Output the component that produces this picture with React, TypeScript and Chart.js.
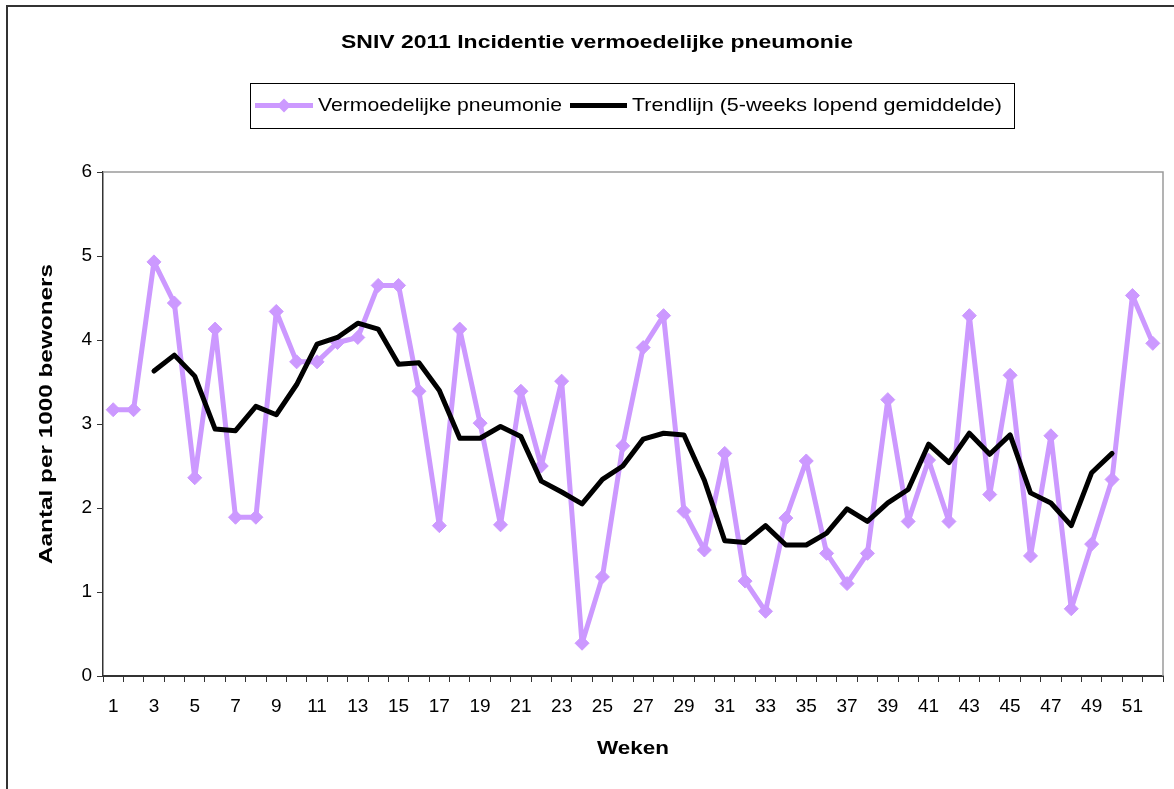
import React, { useEffect, useRef } from "react";
import { Chart, registerables } from "chart.js";

Chart.register(...registerables);

const FONT = "'Liberation Sans', Arial, sans-serif";

const TITLE = "SNIV 2011 Incidentie vermoedelijke pneumonie";
const X_TITLE = "Weken";
const Y_TITLE = "Aantal per 1000 bewoners";
const SERIES_NAMES = ["Vermoedelijke pneumonie", "Trendlijn (5-weeks lopend gemiddelde)"];

const weeks = [
  "1", "2", "3", "4", "5", "6", "7", "8", "9", "10",
  "11", "12", "13", "14", "15", "16", "17", "18", "19", "20",
  "21", "22", "23", "24", "25", "26", "27", "28", "29", "30",
  "31", "32", "33", "34", "35", "36", "37", "38", "39", "40",
  "41", "42", "43", "44", "45", "46", "47", "48", "49", "50",
  "51", "52",
];

const pneumonie = [
  3.17, 3.17, 4.93, 4.44, 2.36, 4.13, 1.89, 1.89, 4.34, 3.74,
  3.74, 3.97, 4.03, 4.65, 4.65, 3.39, 1.79, 4.13, 3.01, 1.80,
  3.39, 2.50, 3.51, 0.39, 1.18, 2.74, 3.91, 4.29, 1.96, 1.50,
  2.65, 1.13, 0.77, 1.88, 2.56, 1.46, 1.10, 1.46, 3.29, 1.84,
  2.57, 1.84, 4.29, 2.16, 3.58, 1.43, 2.86, 0.80, 1.57, 2.34,
  4.53, 3.96,
];

const trend = [
  null, null, 3.63, 3.82, 3.57, 2.94, 2.92, 3.21, 3.11, 3.47,
  3.95, 4.03, 4.20, 4.13, 3.71, 3.73, 3.40, 2.83, 2.83, 2.97,
  2.85, 2.32, 2.19, 2.05, 2.34, 2.50, 2.82, 2.89, 2.87, 2.33,
  1.61, 1.59, 1.79, 1.56, 1.56, 1.70, 1.99, 1.84, 2.06, 2.22,
  2.76, 2.54, 2.89, 2.64, 2.87, 2.18, 2.06, 1.79, 2.42, 2.65,
  null, null,
];

const yTicks = [0, 1, 2, 3, 4, 5, 6];

const PURPLE = "#CC99FF";
const BLACK = "#000000";

// draw text horizontally stretched (as in the original Excel export) to a target width
function drawStretched(
  ctx: CanvasRenderingContext2D,
  text: string,
  x: number,
  y: number,
  targetWidth: number,
  align: "left" | "center",
  rotation = 0
) {
  const w = ctx.measureText(text).width;
  const sx = targetWidth / w;
  ctx.save();
  ctx.translate(x, y);
  if (rotation) ctx.rotate(rotation);
  ctx.scale(sx, 1);
  ctx.textAlign = align;
  ctx.textBaseline = "middle";
  ctx.fillText(text, 0, 0);
  ctx.restore();
}

const decorPlugin = {
  id: "decor",
  beforeDatasetsDraw(chart: any) {
    const { ctx, chartArea: a } = chart;
    ctx.save();
    ctx.strokeStyle = "#9a9a9a";
    ctx.lineWidth = 1.5;
    ctx.beginPath();
    ctx.moveTo(a.left, a.top);
    ctx.lineTo(a.right, a.top);
    ctx.lineTo(a.right, a.bottom);
    ctx.stroke();
    ctx.restore();
  },
  afterDraw(chart: any) {
    const { ctx, chartArea: a } = chart;
    ctx.save();
    ctx.fillStyle = "#000";

    // Title
    ctx.font = `bold 18px ${FONT}`;
    drawStretched(ctx, TITLE, 597, 43, 512, "center");

    // Axis titles
    ctx.font = `bold 18px ${FONT}`;
    drawStretched(ctx, X_TITLE, (a.left + a.right) / 2, 749, 72, "center");
    drawStretched(ctx, Y_TITLE, 47, 414, 300, "center", -Math.PI / 2);

    // Legend
    ctx.font = `19px ${FONT}`;
    const left = 250;
    const right = 1014;
    const top = 83;
    const h = 45;
    const cy = top + h / 2;
    ctx.strokeStyle = "#000";
    ctx.lineWidth = 1;
    ctx.strokeRect(left + 0.5, top + 0.5, right - left, h);

    const ds = chart.data.datasets;
    let x = left + 5;
    const lineLen = 58;
    // entry 1
    ctx.strokeStyle = ds[0].borderColor;
    ctx.lineWidth = 5;
    ctx.beginPath();
    ctx.moveTo(x, cy);
    ctx.lineTo(x + lineLen, cy);
    ctx.stroke();
    const mx = x + lineLen / 2;
    const r = 7;
    ctx.fillStyle = ds[0].pointBackgroundColor;
    ctx.beginPath();
    ctx.moveTo(mx - r, cy);
    ctx.lineTo(mx, cy - r);
    ctx.lineTo(mx + r, cy);
    ctx.lineTo(mx, cy + r);
    ctx.closePath();
    ctx.fill();
    x += lineLen + 5;
    ctx.fillStyle = "#000";
    drawStretched(ctx, SERIES_NAMES[0], x, cy, 244, "left");
    x += 244 + 8;
    // entry 2
    ctx.strokeStyle = ds[1].borderColor;
    ctx.lineWidth = 5;
    ctx.beginPath();
    ctx.moveTo(x, cy);
    ctx.lineTo(x + 57, cy);
    ctx.stroke();
    x += 57 + 5;
    ctx.fillStyle = "#000";
    drawStretched(ctx, SERIES_NAMES[1], x, cy, 370, "left");
    ctx.restore();
  },
};

export default function App() {
  const ref = useRef<HTMLCanvasElement | null>(null);

  useEffect(() => {
    if (!ref.current) return;
    const chart = new Chart(ref.current, {
      type: "line",
      data: {
        labels: weeks,
        datasets: [
          {
            label: SERIES_NAMES[0],
            data: pneumonie,
            borderColor: PURPLE,
            backgroundColor: PURPLE,
            pointBackgroundColor: PURPLE,
            pointBorderColor: PURPLE,
            pointStyle: "rectRot",
            pointRadius: 7,
            pointBorderWidth: 1,
            borderWidth: 5,
            borderJoinStyle: "round",
            tension: 0,
            order: 2,
          },
          {
            label: SERIES_NAMES[1],
            data: trend,
            borderColor: BLACK,
            backgroundColor: BLACK,
            pointRadius: 0,
            borderWidth: 5,
            borderJoinStyle: "round",
            borderCapStyle: "round",
            tension: 0,
            spanGaps: false,
            order: 1,
          },
        ],
      },
      options: {
        responsive: false,
        animation: false,
        devicePixelRatio: 1,
        layout: { padding: { left: 0, right: 11, top: 172, bottom: 0 } },
        plugins: {
          legend: { display: false },
          title: { display: false },
          tooltip: { enabled: false },
        },
        scales: {
          x: {
            type: "category",
            offset: true,
            grid: {
              offset: true,
              drawOnChartArea: false,
              drawTicks: true,
              tickLength: 6,
              color: "#333",
              lineWidth: 1,
            },
            border: { display: true, color: "#333", width: 2 },
            ticks: {
              autoSkip: false,
              maxRotation: 0,
              minRotation: 0,
              padding: 13,
              color: "#000",
              font: { family: FONT, size: 19 },
              callback: (_v: any, i: number) => (i % 2 === 0 ? weeks[i] : ""),
            },
            title: { display: false },
            afterFit: (s: any) => {
              s.height = 113;
            },
          },
          y: {
            min: 0,
            max: 6,
            afterBuildTicks: (s: any) => {
              s.ticks = yTicks.map((v) => ({ value: v }));
            },
            grid: {
              drawOnChartArea: false,
              drawTicks: true,
              tickLength: 6,
              color: "#333",
            },
            border: { display: true, color: "#333", width: 1.5 },
            ticks: {
              padding: 5,
              color: "#000",
              font: { family: FONT, size: 19 },
            },
            title: { display: false },
            afterFit: (s: any) => {
              s.width = 103;
            },
          },
        },
      },
      plugins: [decorPlugin],
    });
    return () => chart.destroy();
  }, []);

  return (
    <div style={{ position: "absolute", left: 0, top: 0, width: 1174, height: 789, overflow: "hidden", background: "#fff" }}>
      <div
        style={{
          position: "absolute",
          left: 6,
          top: 5,
          width: 1168,
          height: 784,
          borderLeft: "2px solid #333",
          borderTop: "2px solid #333",
          boxSizing: "border-box",
        }}
      />
      <canvas ref={ref} width={1174} height={789} style={{ position: "absolute", left: 0, top: 0, display: "block" }} />
    </div>
  );
}
